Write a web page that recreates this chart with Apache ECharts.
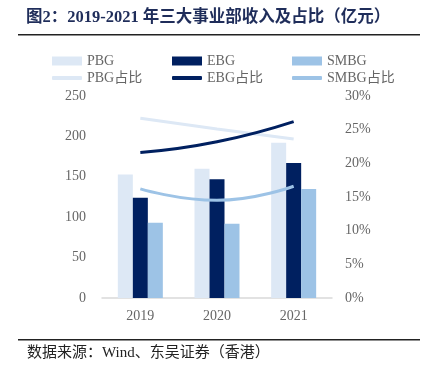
<!DOCTYPE html>
<html>
<head>
<meta charset="utf-8">
<script src="https://cdn.jsdelivr.net/npm/echarts@6/dist/echarts.min.js"></script>
<style>
html,body{margin:0;padding:0;background:#fff;}
#main{width:424px;height:375px;}
</style>
</head>
<body>
<div id="main"></div>
<script>
// data
const years = ['2019', '2020', '2021'];
const pbg = [153, 160, 192];
const ebg = [124, 147, 167];
const smbg = [93, 92, 135];
const pbgShare = [26.7, 25.1, 23.6];
const ebgShare = [21.6, 23.2, 26.2];
const smbgShare = [16.2, 14.5, 16.6];
const leftTicks = [0, 250, 50];
const rightTicks = [0, 30, 5];
const barNames = ['PBG', 'EBG', 'SMBG'];
const lineNames = ['PBG占比', 'EBG占比', 'SMBG占比'];

const serif = "'Liberation Serif','Noto Sans CJK SC',serif";
const gray = '#666';
const c1 = '#dde8f5', c2 = '#002060', c3 = '#9dc3e6';

var myChart = echarts.init(document.getElementById('main'));

const legendText = {color: gray, fontFamily: serif, fontSize: 14};
// one legend per item so the columns line up like the original
const legends = [];
barNames.forEach((n, i) => legends.push({
    left: 47 + i * 120, top: 49, padding: 5, itemWidth: 30, itemHeight: 9,
    icon: 'rect', data: [n], textStyle: legendText
}));
lineNames.forEach((n, i) => legends.push({
    left: 47 + i * 120, top: 66, padding: 5, itemWidth: 30, itemHeight: 4,
    icon: 'roundRect', data: [n], textStyle: legendText
}));

myChart.setOption({
    animation: false,
    textStyle: {fontFamily: serif},
    graphic: [
        {type: 'text', left: 26, top: 9,
            style: {text: '图2：2019-2021 年三大事业部收入及占比（亿元）', fill: '#1f2d5a',
                font: "bold 16.5px 'Liberation Serif','Noto Sans CJK SC'"}},
        {type: 'rect', shape: {x: 18, y: 34, width: 402, height: 1.5}, style: {fill: '#222'}},
        {type: 'rect', shape: {x: 18, y: 339, width: 402, height: 1.5}, style: {fill: '#222'}},
        {type: 'text', left: 27, top: 346,
            style: {text: '数据来源：Wind、东吴证券（香港）', fill: '#222',
                font: "15px 'Liberation Serif','Noto Sans CJK SC'"}}
    ],
    legend: legends,
    grid: {left: 102, right: 92, top: 96, bottom: 77},
    xAxis: {
        type: 'category',
        data: years,
        axisTick: {show: false},
        axisLine: {lineStyle: {color: '#d9d9d9', width: 1.5}},
        axisLabel: {color: gray, fontSize: 14, margin: 11}
    },
    yAxis: [
        {type: 'value', min: leftTicks[0], max: leftTicks[1], interval: leftTicks[2],
            splitLine: {show: false},
            axisLabel: {color: gray, fontSize: 14, margin: 16}},
        {type: 'value', min: rightTicks[0], max: rightTicks[1], interval: rightTicks[2],
            splitLine: {show: false},
            axisLabel: {color: gray, fontSize: 14, margin: 13, formatter: '{value}%'}}
    ],
    series: [
        {name: 'PBG', type: 'bar', data: pbg, barWidth: 15, barGap: '0%', itemStyle: {color: c1}},
        {name: 'EBG', type: 'bar', data: ebg, barWidth: 15, barGap: '0%', itemStyle: {color: c2}},
        {name: 'SMBG', type: 'bar', data: smbg, barWidth: 15, barGap: '0%', itemStyle: {color: c3}},
        {name: 'PBG占比', type: 'line', yAxisIndex: 1, data: pbgShare, smooth: true, symbol: 'none',
            lineStyle: {color: c1, width: 3}, itemStyle: {color: c1}},
        {name: 'EBG占比', type: 'line', yAxisIndex: 1, data: ebgShare, smooth: true, symbol: 'none',
            lineStyle: {color: c2, width: 3}, itemStyle: {color: c2}},
        {name: 'SMBG占比', type: 'line', yAxisIndex: 1, data: smbgShare, smooth: true, symbol: 'none',
            lineStyle: {color: c3, width: 3}, itemStyle: {color: c3}}
    ]
});
</script>
</body>
</html>
